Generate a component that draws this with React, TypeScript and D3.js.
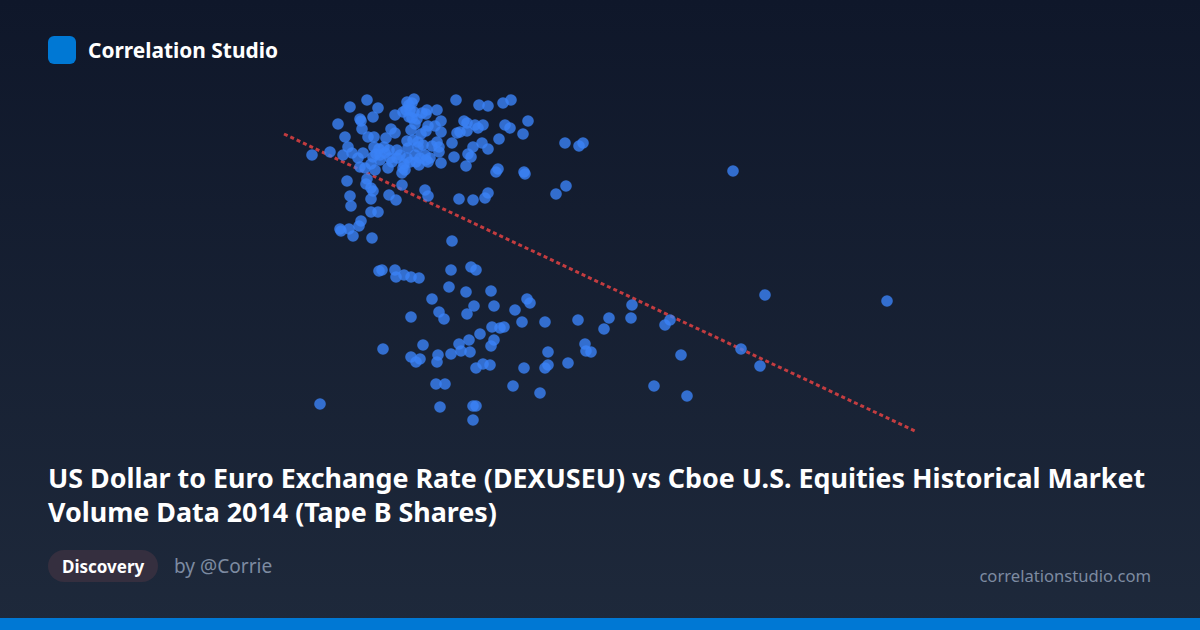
import React from "react";
import * as d3 from "d3";

const upperCluster: [number, number][] = [
  [70,323],[87,330],[98,322],[93,313],[81,309],[82,301],[58,306],[65,293],[68,283],[63,275],[72,277],[78,272],[83,277],[88,293],[94,293],[106,292],[111,301],[115,297],[115,315],[127,328],[134,331],[132,327],[123,318],[130,320],[132,312],[137,311],[142,317],[147,320],[146,316],[157,320],[161,309],[148,304],[146,299],[161,298],[155,304],[176,330],[131,300],[127,289],[138,288],[143,285],[157,288],[159,283],[159,278],[172,287],[177,297],[174,273],[161,267],[94,283],[93,273],[100,275],[109,280],[117,280],[110,272],[127,272],[135,275],[145,275],[148,268],[139,265],[123,262],[108,262],[95,260],[85,262],[80,263],[100,270],[138,283],
  [199,325],[208,324],[223,327],[231,330],[248,309],[225,305],[230,302],[243,296],[219,291],[184,309],[187,307],[195,305],[203,305],[187,299],[198,302],[180,298],[202,287],[208,281],[193,283],[188,276],[191,273],[186,264],
  [125,260],[105,277],[130,268],[140,272],[120,275],[128,282],[104,283],
  [129,325],[126,320],[134,318],[129,313],[135,306],[141,296],[146,270],[136,268],[150,272],[152,284],[122,257],[99,281],[96,276],[112,268],[117,272],[124,266],[133,290],[91,266],[244,258],[245,256],[80,311],
];
const middleCluster: [number, number][] = [
  [67,249],[87,251],[91,242],[93,239],[70,234],[71,224],[91,231],[91,218],[98,218],[81,209],[79,204],[60,201],[61,199],[69,201],[73,194],[92,192],[122,245],[109,235],[116,230],[145,240],[148,234],[179,231],[193,230],[205,232],[208,237],[276,236],[286,244],[218,261],[216,258],[285,287],[299,284],[303,287],[32,275],[50,278],[86,246],
];
const lowerCluster: [number, number][] = [
  [453,259],[485,135],[607,129],[461,81],[480,64],[407,34],[374,44],[401,75],[385,105],[390,110],[352,125],[351,112],[329,112],[324,101],[298,110],[305,86],[311,78],[306,79],[288,67],[268,78],[268,65],[265,62],[260,37],[233,44],[244,62],[265,108],[242,108],[250,127],[247,131],[235,120],[224,103],[220,102],[212,103],[214,124],[211,139],[194,124],[187,116],[186,138],[169,143],[152,131],[159,118],[164,111],[131,113],[103,81],[131,73],[136,68],[140,71],[143,85],[158,75],[157,68],[171,76],[179,86],[181,79],[190,78],[189,90],[200,96],[211,84],[214,90],[196,62],[203,66],[210,65],[156,46],[165,46],[160,23],[193,24],[196,24],[193,10],[40,26],
  [99,159],[102,160],[115,160],[116,153],[124,155],[131,153],[139,152],[171,160],[191,163],[196,160],[172,189],
];
const trendLine: [number, number][] = [[4,296],[635,-1]];

const brandName = "Correlation Studio";
const titleLines = ["US Dollar to Euro Exchange Rate (DEXUSEU) vs Cboe U.S. Equities Historical Market", "Volume Data 2014 (Tape B Shares)"];
const tagLabel = "Discovery";
const authorLabel = "by @Corrie";
const siteLabel = "correlationstudio.com";

const W = 1200, H = 630;
const FONT = "'Noto Sans', sans-serif";

export default function App() {
  const x = d3.scaleLinear().domain([0, 640]).range([280, 920]);
  const y = d3.scaleLinear().domain([0, 340]).range([430, 90]);
  const line = d3.line<[number, number]>().x(d => x(d[0])).y(d => y(d[1]));
  const points = [...upperCluster, ...middleCluster, ...lowerCluster];
  return (
    <svg width={W} height={H} viewBox={`0 0 ${W} ${H}`} style={{ position: "fixed", left: 0, top: 0, display: "block" }} fontFamily={FONT}>
      <defs>
        <linearGradient id="bg" x1="0" y1="0" x2="0" y2="1">
          <stop offset="0" stopColor="#0f172a" />
          <stop offset="1" stopColor="#1e293b" />
        </linearGradient>
      </defs>
      <rect width={W} height={H} fill="url(#bg)" />
      <path d={line(trendLine)!} fill="none" stroke="#ef4444" strokeOpacity={0.8} strokeWidth={3} strokeDasharray="4 3" />
      <g fill="#3b82f6" fillOpacity={0.8}>
        {points.map((p, i) => <circle key={i} cx={x(p[0])} cy={y(p[1])} r={5.8} />)}
      </g>
      <rect x={48} y={36} width={28} height={28} rx={6} fill="#0078d4" />
      <text x={88} y={58} fill="#fff" fontSize={20.9} fontWeight={700}>{brandName}</text>
      {titleLines.map((t, i) => <text key={i} x={48} y={488 + i * 34} fill="#fff" fontSize={26.85} fontWeight={700}>{t}</text>)}
      <rect x={48} y={550} width={110} height={32} rx={16} fill="#352f3f" />
      <text x={62} y={572.5} fill="#fff" fontSize={17} fontWeight={700}>{tagLabel}</text>
      <text x={174} y={572.5} fill="#7d8ba1" fontSize={19.1}>{authorLabel}</text>
      <text x={1151} y={582} fill="#7d8ba1" fontSize={16.6} textAnchor="end">{siteLabel}</text>
      <rect x={0} y={618} width={W} height={12} fill="#0078d4" />
    </svg>
  );
}
